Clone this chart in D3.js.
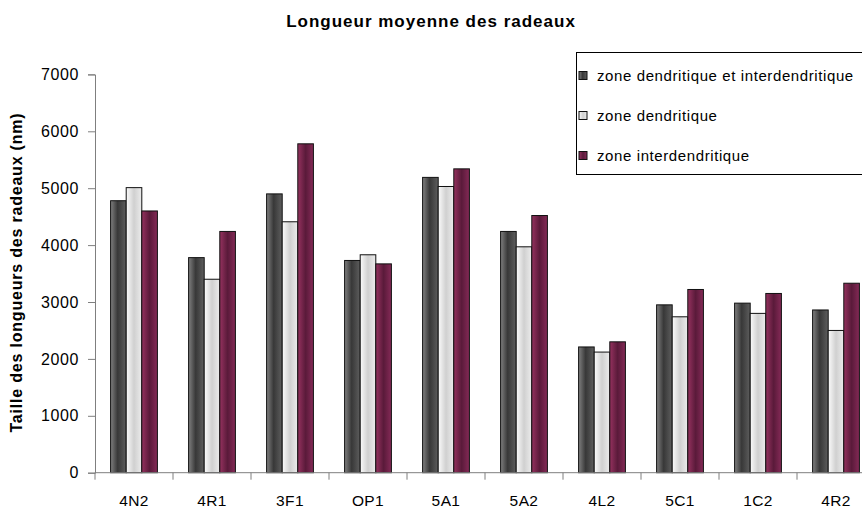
<!DOCTYPE html>
<html>
<head>
<meta charset="utf-8">
<script src="https://cdn.jsdelivr.net/npm/d3@7"></script>
<style>
  html, body { margin: 0; padding: 0; background: #fff; }
  svg { display: block; font-family: Arial, "Liberation Sans", sans-serif; }
</style>
</head>
<body>
<svg id="chart" width="862" height="511"></svg>
<script>
// Sample categories along the x axis
const categories = ["4N2", "4R1", "3F1", "OP1", "5A1", "5A2", "4L2", "5C1", "1C2", "4R2"];

// Series names (legend order)
const seriesNames = [
  "zone dendritique et interdendritique",
  "zone dendritique",
  "zone interdendritique"
];

// Mean raft length (nm) per sample, one array per series
const bothZones      = [4780, 3780, 4900, 3730, 5190, 4240, 2210, 2950, 2980, 2860];
const dendritic      = [5010, 3400, 4410, 3830, 5030, 3970, 2120, 2740, 2800, 2500];
const interdendritic = [4600, 4240, 5780, 3670, 5340, 4520, 2300, 3220, 3150, 3330];

const yTicks = [0, 1000, 2000, 3000, 4000, 5000, 6000, 7000];

const seriesValues = [bothZones, dendritic, interdendritic];

const svg = d3.select("#chart");
const width = 862, height = 511;
const plot = { left: 95, right: 875, top: 74.4, bottom: 472.7 };

// Shaded fills for each series (light edges, darker core)
const gradStops = [
  [["0%", "#808080"], ["45%", "#383838"], ["100%", "#5e5e5e"]],
  [["0%", "#fbfbfb"], ["50%", "#d0d0d0"], ["100%", "#ececec"]],
  [["0%", "#95325f"], ["50%", "#5a1a3a"], ["100%", "#852a57"]]
];
const defs = svg.append("defs");
gradStops.forEach((stops, i) => {
  const g = defs.append("linearGradient")
    .attr("id", "grad" + i)
    .attr("x1", "0%").attr("x2", "100%").attr("y1", "0%").attr("y2", "0%");
  stops.forEach(([o, c]) => g.append("stop").attr("offset", o).attr("stop-color", c));
});

const x = d3.scaleBand().domain(categories).range([plot.left, plot.right]).padding(0);
const xInner = d3.scaleBand().domain(d3.range(seriesNames.length))
  .range([x.bandwidth() / 5, x.bandwidth() * 4 / 5]).padding(0);
const y = d3.scaleLinear().domain([0, 7000]).range([plot.bottom, plot.top]);

// Title
svg.append("text")
  .attr("x", width / 2).attr("y", 27)
  .attr("text-anchor", "middle")
  .style("font-size", "17px").style("font-weight", "bold")
  .style("letter-spacing", "1px")
  .text("Longueur moyenne des radeaux");

// Bars
const groups = svg.append("g").selectAll("g")
  .data(categories)
  .join("g")
  .attr("transform", d => `translate(${x(d)},0)`);

groups.selectAll("rect")
  .data((d, ci) => seriesValues.map((vals, si) => ({ si, v: vals[ci] })))
  .join("rect")
  .attr("x", d => xInner(d.si))
  .attr("width", xInner.bandwidth())
  .attr("y", d => y(d.v))
  .attr("height", d => y(0) - y(d.v))
  .attr("fill", d => `url(#grad${d.si})`)
  .attr("stroke", "#111")
  .attr("stroke-width", 1);

// Y axis
const yAxis = d3.axisLeft(y).tickValues(yTicks).tickSize(7).tickPadding(9).tickFormat(d3.format("d"));
const gy = svg.append("g").attr("transform", `translate(${plot.left},0)`).call(yAxis);
gy.select(".domain").attr("stroke", "#7f7f7f");
gy.selectAll(".tick line").attr("stroke", "#7f7f7f");
gy.selectAll(".tick text")
  .attr("fill", "#000")
  .style("font-size", "16px")
  .style("letter-spacing", "0.6px")
  .style("font-family", "Arial, 'Liberation Sans', sans-serif");

// X axis: tick marks at category boundaries, labels centred on groups
const gx = svg.append("g").attr("transform", `translate(0,${plot.bottom})`);
gx.append("line")
  .attr("x1", plot.left).attr("x2", width)
  .attr("stroke", "#7f7f7f");
gx.selectAll("line.sep")
  .data(categories)
  .join("line")
  .attr("class", "sep")
  .attr("x1", d => x(d)).attr("x2", d => x(d))
  .attr("y1", 0).attr("y2", 7)
  .attr("stroke", "#7f7f7f");
gx.selectAll("text")
  .data(categories)
  .join("text")
  .attr("x", d => x(d) + x.bandwidth() / 2)
  .attr("y", 33)
  .attr("text-anchor", "middle")
  .style("font-size", "15.5px")
  .style("letter-spacing", "0.4px")
  .text(d => d);

// Y axis title
svg.append("text")
  .attr("transform", `translate(22,${(plot.top + plot.bottom) / 2 - 1}) rotate(-90)`)
  .attr("text-anchor", "middle")
  .style("font-size", "16px").style("font-weight", "bold")
  .style("letter-spacing", "0.8px")
  .text("Taille des longueurs des radeaux (nm)");

// Legend
const legend = svg.append("g");
legend.append("rect")
  .attr("x", 576.5).attr("y", 52.5)
  .attr("width", 300).attr("height", 122)
  .attr("fill", "#fff").attr("stroke", "#000");
const items = legend.selectAll("g.item")
  .data(seriesNames)
  .join("g")
  .attr("class", "item")
  .attr("transform", (d, i) => `translate(579,${75.5 + i * 40})`);
items.append("rect")
  .attr("x", 0).attr("y", -4).attr("width", 8).attr("height", 8)
  .attr("fill", (d, i) => `url(#grad${i})`)
  .attr("stroke", "#111");
items.append("text")
  .attr("x", 18).attr("y", 5)
  .style("font-size", "15px")
  .style("letter-spacing", "0.6px")
  .text(d => d);
</script>
</body>
</html>
